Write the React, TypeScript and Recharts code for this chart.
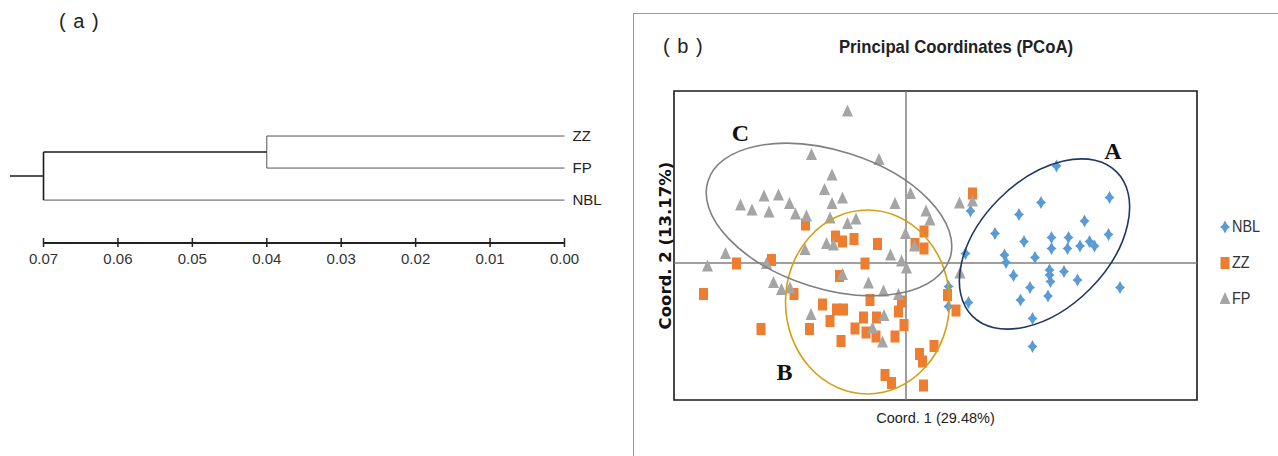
import React from "react";
import {
  ScatterChart,
  Scatter,
  XAxis,
  YAxis,
  ReferenceLine,
  ReferenceArea,
  Legend,
} from "recharts";

// ---- (a) dendrogram ----
const leafNames = ["ZZ", "FP", "NBL"];
const leafRows = [3, 2, 1];
const zzFpHeight = 0.04;
const rootHeight = 0.07;
const rootStub = 0.0745;
const distTicks = [0.07, 0.06, 0.05, 0.04, 0.03, 0.02, 0.01, 0.0];

// ---- (b) PCoA ----
const nblPoints: [number, number][] = [
  [0.301, 0.194], [0.27, 0.121], [0.407, 0.131], [0.226, 0.097], [0.357, 0.084],
  [0.129, 0.104], [0.178, 0.059], [0.236, 0.043], [0.291, 0.051], [0.291, 0.029],
  [0.325, 0.051], [0.323, 0.029], [0.348, 0.034], [0.367, 0.043], [0.377, 0.034],
  [0.405, 0.057], [0.119, 0.019], [0.197, 0.016], [0.2, 0.001], [0.258, 0.011],
  [0.215, -0.025], [0.287, -0.014], [0.287, -0.024], [0.289, -0.037], [0.316, -0.017],
  [0.343, -0.034], [0.248, -0.049], [0.229, -0.074], [0.284, -0.066], [0.428, -0.049],
  [0.253, -0.111], [0.253, -0.167], [0.125, -0.079], [0.085, -0.047], [0.085, -0.087],
];

const zzPoints: [number, number][] = [
  [-0.201, 0.077], [-0.141, 0.053], [-0.127, 0.043], [-0.104, 0.048], [-0.057, 0.038],
  [0.036, 0.063], [0.018, 0.038], [0.036, 0.029], [-0.339, -0.001], [-0.269, 0.006],
  [-0.082, -0.001], [0.133, 0.139], [-0.405, -0.062], [-0.224, -0.062], [-0.29, -0.132],
  [-0.133, -0.026], [-0.167, -0.083], [-0.139, -0.093], [-0.125, -0.093], [-0.152, -0.116],
  [-0.193, -0.132], [-0.13, -0.156], [-0.102, -0.131], [-0.085, -0.109], [-0.08, -0.139],
  [-0.059, -0.109], [-0.06, -0.147], [-0.072, -0.074], [-0.022, -0.147], [-0.015, -0.097],
  [-0.009, -0.077], [-0.004, -0.124], [0.027, -0.182], [0.033, -0.197], [0.056, -0.166],
  [-0.042, -0.224], [-0.029, -0.24], [0.035, -0.245], [0.083, -0.064], [0.1, -0.095],
];

const fpPoints: [number, number][] = [
  [-0.117, 0.303], [-0.189, 0.216], [-0.054, 0.206], [-0.148, 0.175], [-0.163, 0.146],
  [-0.127, 0.129], [-0.148, 0.118], [-0.284, 0.133], [-0.255, 0.135], [-0.331, 0.115],
  [-0.308, 0.105], [-0.274, 0.101], [-0.233, 0.118], [-0.221, 0.097], [-0.199, 0.093],
  [-0.022, 0.118], [0.009, 0.138], [-0.152, 0.089], [-0.117, 0.078], [-0.1, 0.087],
  [0.04, 0.103], [0.048, 0.085], [-0.001, 0.058], [-0.159, 0.038], [-0.145, 0.035],
  [-0.202, 0.026], [-0.031, 0.015], [0.017, 0.033], [-0.361, 0.018], [-0.397, -0.007],
  [-0.279, -0.002], [0.107, 0.119], [0.133, 0.123], [0.108, -0.021], [-0.009, 0.003],
  [0.001, -0.011], [-0.265, -0.04], [-0.249, -0.054], [-0.232, -0.051], [-0.127, -0.024],
  [-0.075, -0.041], [-0.045, -0.057], [-0.015, -0.064], [-0.19, -0.104], [-0.044, -0.106],
  [-0.067, -0.131], [-0.047, -0.159],
];

// cluster ellipses: centre, semi-axes (data units), rotation in degrees
const clusterEllipses = [
  { name: "A", x: 0.277, y: 0.038, rx: 0.204, ry: 0.128, angle: -45 },
  { name: "B", x: -0.077, y: -0.078, rx: 0.164, ry: 0.184, angle: 0 },
  { name: "C", x: -0.154, y: 0.087, rx: 0.254, ry: 0.138, angle: 17.7 },
];
const clusterLabels = [
  { name: "A", x: 0.414, y: 0.224 },
  { name: "B", x: -0.243, y: -0.218 },
  { name: "C", x: -0.331, y: 0.26 },
];

const X_DOMAIN: [number, number] = [-0.464, 0.582];
const Y_DOMAIN: [number, number] = [-0.274, 0.344];

const SANS = "'Liberation Sans', Arial, sans-serif";

const ellipseColors: Record<string, string> = { A: "#1f3864", B: "#d4a017", C: "#808080" };

const B_WIDTH = 645;
const B_MARGIN = { top: 91, right: 81, bottom: 20, left: 23 };
const Y_AXIS_W = 18;
const PX_PER_UNIT =
  (B_WIDTH - B_MARGIN.left - B_MARGIN.right - Y_AXIS_W) / (X_DOMAIN[1] - X_DOMAIN[0]);

const toXY = (pts: [number, number][]) => pts.map(([x, y]) => ({ x, y }));

const diamond = ({ cx, cy }: any) => (
  <path
    d={`M${cx} ${cy - 6.5} L${cx + 2.3} ${cy - 2.3} L${cx + 5} ${cy} L${cx + 2.3} ${cy + 2.3} L${cx} ${cy + 6.5} L${cx - 2.3} ${cy + 2.3} L${cx - 5} ${cy} L${cx - 2.3} ${cy - 2.3} Z`}
    fill="#5b9bd5"
  />
);
const square = ({ cx, cy }: any) => (
  <rect x={cx - 4.5} y={cy - 6} width={9} height={12} fill="#ed7d31" />
);
const triangle = ({ cx, cy }: any) => (
  <path d={`M${cx} ${cy - 7} L${cx + 5.5} ${cy + 5} L${cx - 5.5} ${cy + 5} Z`} fill="#a5a5a5" />
);

const legendItems = [
  { name: "NBL", shape: diamond },
  { name: "ZZ", shape: square },
  { name: "FP", shape: triangle },
];

function DendroTick({ x, y, payload }: any) {
  return (
    <g>
      <line x1={x} x2={x} y1={y - 5} y2={y + 4} stroke="#222" strokeWidth={1.5} />
      <text x={x} y={y + 15} textAnchor="middle" dominantBaseline="central" fill="#333" fontSize={15} fontFamily={SANS}>
        {Number(payload.value).toFixed(2)}
      </text>
    </g>
  );
}

function Dendrogram() {
  const nodeMid = (leafRows[0] + leafRows[1]) / 2;
  const rootMid = (nodeMid + leafRows[2]) / 2;
  const segments = [
    { x1: 0, y1: leafRows[0], x2: zzFpHeight, y2: leafRows[0], strong: false },
    { x1: 0, y1: leafRows[1], x2: zzFpHeight, y2: leafRows[1], strong: false },
    { x1: 0, y1: leafRows[2], x2: rootHeight, y2: leafRows[2], strong: false },
    { x1: zzFpHeight, y1: leafRows[0], x2: zzFpHeight, y2: leafRows[1], strong: false },
    { x1: zzFpHeight, y1: nodeMid, x2: rootHeight, y2: nodeMid, strong: true },
    { x1: rootHeight, y1: nodeMid, x2: rootHeight, y2: leafRows[2], strong: true },
    { x1: rootHeight, y1: rootMid, x2: rootStub, y2: rootMid, strong: true },
  ];
  return (
    <ScatterChart width={620} height={300} margin={{ top: 120, right: 5.5, bottom: 27, left: 43.5 }}>
      <XAxis
        type="number"
        dataKey="x"
        domain={[0, 0.07]}
        reversed
        allowDataOverflow
        ticks={distTicks}
        interval={0}
        height={30}
        tickSize={0}
        tickMargin={0}
        axisLine={{ stroke: "#222", strokeWidth: 2 }}
        tick={<DendroTick />}
      />
      <YAxis
        type="number"
        dataKey="y"
        orientation="right"
        domain={[-0.34, 3.5]}
        allowDataOverflow
        ticks={leafRows}
        interval={0}
        width={50}
        axisLine={false}
        tickLine={false}
        tickSize={6}
        tickMargin={2}
        tickFormatter={(v: number) => leafNames[leafRows.indexOf(v)] ?? ""}
        tick={{ fill: "#222", fontSize: 15, fontFamily: SANS, textAnchor: "start" }}
      />
      <Scatter
        data={leafRows.map((y) => ({ x: 0, y }))}
        shape={() => <g />}
        isAnimationActive={false}
      />
      {segments.map((s, i) => (
        <ReferenceLine
          key={i}
          segment={[{ x: s.x1, y: s.y1 }, { x: s.x2, y: s.y2 }]}
          stroke={s.strong ? "#1a1a1a" : "#555"}
          strokeWidth={s.strong ? 1.6 : 1}
          ifOverflow="visible"
        />
      ))}
    </ScatterChart>
  );
}

function PCoA() {
  return (
    <ScatterChart width={B_WIDTH} height={456} margin={B_MARGIN}>
      <XAxis
        type="number"
        dataKey="x"
        domain={X_DOMAIN}
        allowDataOverflow
        height={36}
        tick={false}
        axisLine={false}
        tickLine={false}
        label={{ value: "Coord. 1 (29.48%)", position: "center", fill: "#222", fontSize: 14.5, fontFamily: SANS }}
      />
      <YAxis
        type="number"
        dataKey="y"
        domain={Y_DOMAIN}
        allowDataOverflow
        width={Y_AXIS_W}
        tick={false}
        axisLine={false}
        tickLine={false}
        label={{
          value: "Coord. 2 (13.17%)",
          angle: -90,
          position: "center",
          fill: "#111",
          fontSize: 16.5,
          fontWeight: "bold",
          fontFamily: "'DejaVu Sans', sans-serif",
        }}
      />
      <ReferenceArea
        x1={X_DOMAIN[0]}
        x2={X_DOMAIN[1]}
        y1={Y_DOMAIN[0]}
        y2={Y_DOMAIN[1]}
        fill="none"
        fillOpacity={0}
        stroke="#1a1a1a"
        strokeWidth={1.6}
        ifOverflow="visible"
      />
      <ReferenceLine x={0} stroke="#7f7f7f" strokeWidth={1.5} />
      <ReferenceLine y={0} stroke="#7f7f7f" strokeWidth={1.5} />
      <Scatter name="NBL" data={toXY(nblPoints)} shape={diamond} isAnimationActive={false} />
      <Scatter name="ZZ" data={toXY(zzPoints)} shape={square} isAnimationActive={false} />
      <Scatter name="FP" data={toXY(fpPoints)} shape={triangle} isAnimationActive={false} />
      <Scatter
        data={clusterEllipses}
        isAnimationActive={false}
        shape={(p: any) => {
          const e = p.payload;
          return (
            <ellipse
              cx={p.cx}
              cy={p.cy}
              rx={e.rx * PX_PER_UNIT}
              ry={e.ry * PX_PER_UNIT}
              transform={`rotate(${e.angle} ${p.cx} ${p.cy})`}
              fill="none"
              stroke={ellipseColors[e.name]}
              strokeWidth={1.6}
            />
          );
        }}
      />
      <Scatter
        data={clusterLabels}
        isAnimationActive={false}
        shape={(p: any) => (
          <text
            x={p.cx}
            y={p.cy}
            textAnchor="middle"
            dominantBaseline="central"
            fontFamily="'Liberation Serif', 'Times New Roman', serif"
            fontWeight="bold"
            fontSize={24}
            fill="#111"
          >
            {p.payload.name}
          </text>
        )}
      />
      <Legend
        layout="horizontal"
        align="center"
        verticalAlign="middle"
        wrapperStyle={{ left: 587, top: 209, width: 58, height: 108 }}
        content={() => (
          <div>
            {legendItems.map((it) => (
              <div key={it.name} style={{ height: 36, display: "flex", alignItems: "center" }}>
                <svg width={10} height={14}>
                  {it.shape({ cx: 5, cy: 7 })}
                </svg>
                <span
                  style={{
                    marginLeft: 2,
                    fontFamily: SANS,
                    fontSize: 17,
                    color: "#333",
                    display: "inline-block",
                    transform: "scaleX(0.85)",
                    transformOrigin: "left center",
                  }}
                >
                  {it.name}
                </span>
              </div>
            ))}
          </div>
        )}
      />
    </ScatterChart>
  );
}

export default function App() {
  return (
    <div
      style={{
        position: "absolute",
        left: 0,
        top: 0,
        width: 1278,
        height: 456,
        overflow: "hidden",
        background: "#fff",
      }}
    >
      <div style={{ position: "absolute", left: 59, top: 11, fontFamily: SANS, fontSize: 20, lineHeight: "20px", letterSpacing: 1, color: "#222" }}>
        ( a )
      </div>
      <div style={{ position: "absolute", left: 0, top: 0 }}>
        <Dendrogram />
      </div>
      <div
        style={{
          position: "absolute",
          left: 633,
          top: 13,
          width: 700,
          height: 500,
          border: "1px solid #9a9a9a",
        }}
      />
      <div style={{ position: "absolute", left: 663, top: 36, fontFamily: SANS, fontSize: 20, lineHeight: "20px", letterSpacing: 1, color: "#222" }}>
        ( b )
      </div>
      <div
        style={{
          position: "absolute",
          left: 806,
          top: 37,
          width: 300,
          textAlign: "center",
          fontFamily: SANS,
          fontWeight: "bold",
          fontSize: 19,
          lineHeight: "19px",
          color: "#222",
          transform: "scaleX(0.88)",
          transformOrigin: "center center",
        }}
      >
        Principal Coordinates (PCoA)
      </div>
      <div style={{ position: "absolute", left: 633, top: 0 }}>
        <PCoA />
      </div>
    </div>
  );
}
